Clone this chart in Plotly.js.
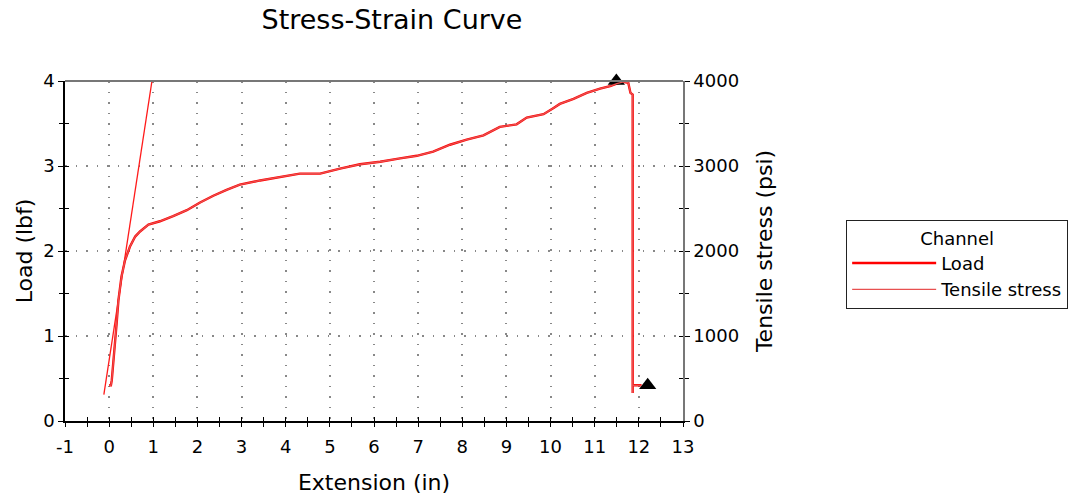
<!DOCTYPE html>
<html><head><meta charset="utf-8">
<script src="https://cdn.plot.ly/plotly-3.0.1.min.js"></script>
<style>html,body{margin:0;padding:0;background:#fff}#c{width:1071px;height:496px}</style>
</head><body><div id="c"></div>
<script>
var extension = [0.00,0.04,0.06,0.09,0.13,0.17,0.21,0.28,0.36,0.47,0.59,0.70,0.89,1.15,1.45,1.76,2.06,2.36,2.66,2.96,3.42,3.87,4.32,4.78,5.00,5.23,5.68,6.14,6.59,6.97,7.34,7.72,8.10,8.48,8.85,9.23,9.46,9.84,10.06,10.21,10.52,10.82,11.12,11.35,11.50,11.65,11.76,11.81,11.86,11.86,11.86,12.06];
var load = [0.42,0.42,0.48,0.64,0.89,1.15,1.42,1.70,1.89,2.05,2.17,2.23,2.31,2.35,2.41,2.48,2.57,2.65,2.72,2.78,2.83,2.87,2.91,2.91,2.94,2.97,3.02,3.05,3.09,3.12,3.17,3.25,3.31,3.36,3.46,3.49,3.57,3.61,3.68,3.73,3.79,3.86,3.91,3.94,3.97,3.99,3.98,3.86,3.84,0.33,0.42,0.42];
var tensileStress = [420,420,480,640,890,1150,1420,1700,1890,2050,2170,2230,2310,2350,2410,2480,2570,2650,2720,2780,2830,2870,2910,2910,2940,2970,3020,3050,3090,3120,3170,3250,3310,3360,3460,3490,3570,3610,3680,3730,3790,3860,3910,3940,3970,3990,3980,3860,3840,330,420,420];
var modulusExt = [-0.12, 0.97];
var modulusLoad = [0.31, 4.0];
var markerExt = [11.49, 12.2];
var markerLoad = [4.0, 0.42];
var xTicks = [-1,0,1,2,3,4,5,6,7,8,9,10,11,12,13];
var yTicks = [0,1,2,3,4];
var y2Ticks = [0,1000,2000,3000,4000];

var font = "DejaVu Sans, Verdana, sans-serif";
var traces = [
  {x: extension, y: load, name: 'Load', mode: 'lines', line: {color: '#ff0000', width: 2.4}},
  {x: extension, y: tensileStress, name: 'Tensile stress', yaxis: 'y2', mode: 'lines', line: {color: '#e85050', width: 1.3}},
  {x: modulusExt, y: modulusLoad, mode: 'lines', showlegend: false, line: {color: '#ff1a1a', width: 1.3}},
  {x: markerExt, y: markerLoad, mode: 'markers', showlegend: false, cliponaxis: false, marker: {symbol: 'triangle-up', size: 15, color: '#000'}},
  {x: [null], y: [null], xaxis: 'x2', yaxis: 'y3', showlegend: false},
  {x: [null], y: [null], xaxis: 'x2', yaxis: 'y4', showlegend: false}
];
var tickFont = {family: font, size: 18, color: '#000'};
var gdash = '1.5px,9px';
var layout = {
  width: 1071, height: 496,
  margin: {l: 65, r: 388, t: 81, b: 75, autoexpand: false},
  paper_bgcolor: '#fff', plot_bgcolor: '#fff',
  font: {family: font, color: '#000'},
  title: {text: 'Stress-Strain Curve', x: 0.366, xanchor: 'center', y: 0.96, yanchor: 'middle', font: {family: font, size: 27, color: '#000'}},
  showlegend: true,
  legend: {x: 1.264, xanchor: 'left', y: 0.59, yanchor: 'top', bgcolor: '#fff', bordercolor: '#222', borderwidth: 1,
    itemwidth: 84, tracegroupgap: 0,
    font: {family: font, size: 18, color: '#000'},
    title: {text: 'Channel', side: 'top center', font: {family: font, size: 18, color: '#000'}}},
  xaxis: {range: [-1, 13], tickvals: xTicks, ticktext: xTicks.map(String), showline: true, linecolor: '#000', linewidth: 1.5,
    ticks: 'outside', ticklen: 4, tickcolor: '#000', tickfont: tickFont, zeroline: false, ticklabelstandoff: 5,
    showgrid: true, gridcolor: '#888', griddash: gdash, gridwidth: 1.5,
    minor: {dtick: 0.5, ticks: 'outside', ticklen: 4, tickcolor: '#000', showgrid: false},
    title: {text: 'Extension (in)', font: {family: font, size: 22, color: '#000'}, standoff: 18}},
  xaxis2: {range: [-1, 13], overlaying: 'x', showline: false, showgrid: false, zeroline: false, showticklabels: false,
    tickvals: xTicks, ticks: 'inside', ticklen: 4, tickcolor: '#000', minor: {dtick: 0.5, ticks: 'inside', ticklen: 4, tickcolor: '#000'}},
  yaxis: {range: [0, 4], tickvals: yTicks, ticktext: yTicks.map(String), showline: true, linecolor: '#000', linewidth: 1.5,
    ticks: 'outside', ticklen: 5, tickcolor: '#000', tickfont: tickFont, zeroline: false,
    showgrid: true, gridcolor: '#888', griddash: gdash, gridwidth: 1.5,
    minor: {dtick: 0.5, ticks: 'outside', ticklen: 4, tickcolor: '#000', showgrid: false},
    title: {text: 'Load (lbf)', font: {family: font, size: 22, color: '#000'}, standoff: 4}},
  yaxis2: {range: [0, 4000], overlaying: 'y', side: 'right', tickvals: y2Ticks, ticktext: y2Ticks.map(String),
    showline: true, linecolor: '#777', linewidth: 1.5, ticks: 'outside', ticklen: 5, tickcolor: '#000', tickfont: tickFont,
    showgrid: false, zeroline: false,
    minor: {dtick: 500, ticks: 'outside', ticklen: 4, tickcolor: '#000'},
    title: {text: 'Tensile stress (psi)', font: {family: font, size: 22, color: '#000'}, standoff: 18}},
  yaxis3: {range: [0, 4], overlaying: 'y', anchor: 'x2', side: 'left', showgrid: false, zeroline: false, showticklabels: false,
    tickvals: yTicks, ticks: 'inside', ticklen: 4, tickcolor: '#000', minor: {dtick: 0.5, ticks: 'inside', ticklen: 4, tickcolor: '#000'}},
  yaxis4: {range: [0, 4000], overlaying: 'y', anchor: 'x2', side: 'right', showgrid: false, zeroline: false, showticklabels: false,
    tickvals: y2Ticks, ticks: 'inside', ticklen: 4, tickcolor: '#000', minor: {dtick: 500, ticks: 'inside', ticklen: 4, tickcolor: '#000'}},
  shapes: [{type: 'line', xref: 'paper', yref: 'paper', x0: 0, x1: 1, y0: 1, y1: 1, line: {color: '#777', width: 2}}]
};
Plotly.newPlot('c', traces, layout, {displayModeBar: false, responsive: false});
</script></body></html>
